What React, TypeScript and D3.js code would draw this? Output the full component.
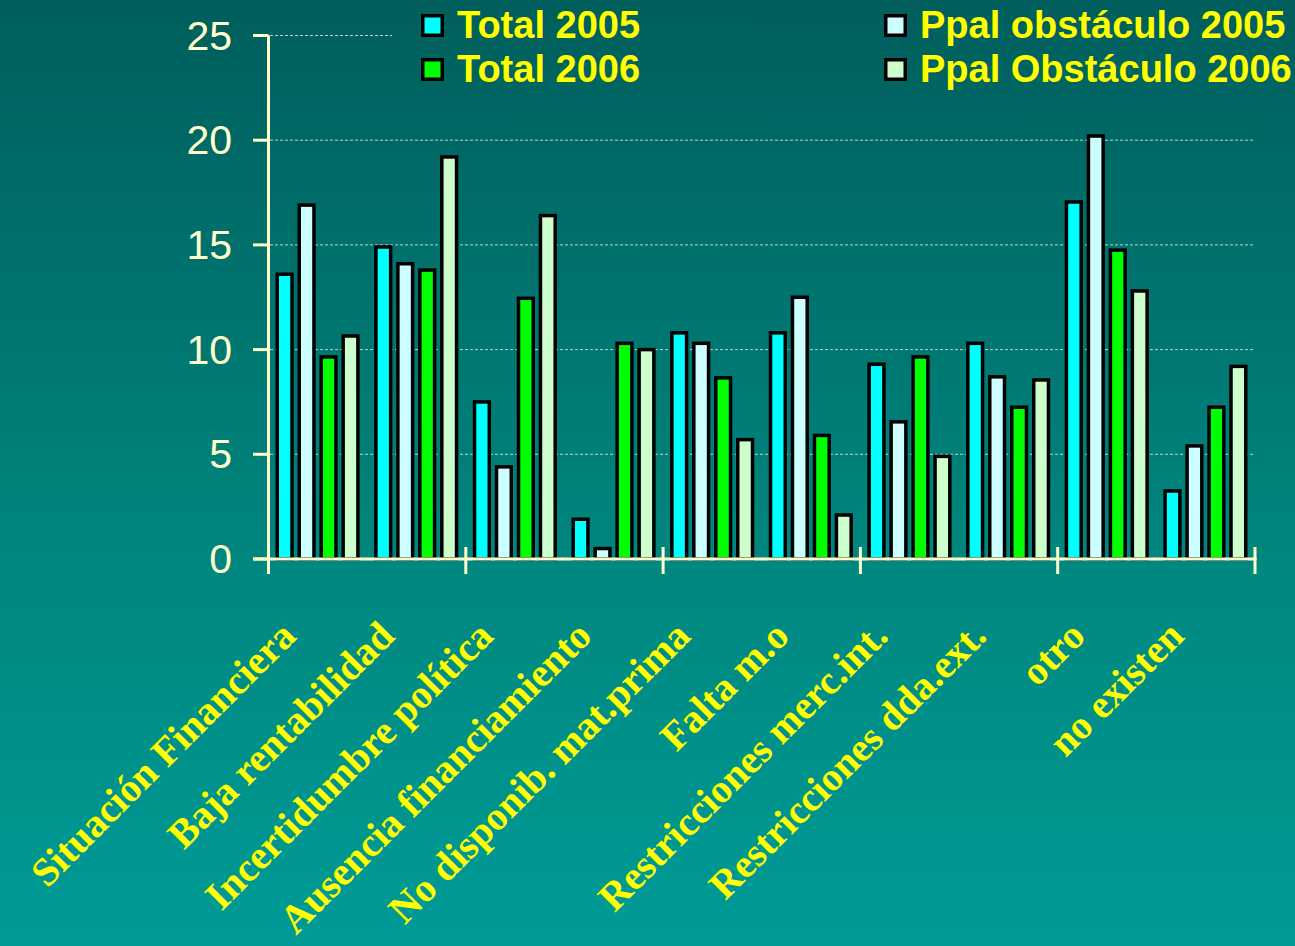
import React from 'react';
import * as d3 from 'd3';

const categories = [
  'Situación Financiera',
  'Baja rentabilidad',
  'Incertidumbre política',
  'Ausencia financiamiento',
  'No disponib. mat.prima',
  'Falta m.o',
  'Restricciones merc.int.',
  'Restricciones dda.ext.',
  'otro',
  'no existen',
];

const seriesNames = ['Total 2005', 'Ppal obstáculo 2005', 'Total 2006', 'Ppal Obstáculo 2006'];
const total2005 = [13.6, 14.9, 7.5, 1.9, 10.8, 10.8, 9.3, 10.3, 17.05, 3.25];
const ppal2005 = [16.9, 14.1, 4.4, 0.5, 10.3, 12.5, 6.55, 8.7, 20.2, 5.4];
const total2006 = [9.65, 13.8, 12.45, 10.3, 8.65, 5.9, 9.65, 7.25, 14.75, 7.25];
const ppal2006 = [10.65, 19.2, 16.4, 10.0, 5.7, 2.1, 4.9, 8.55, 12.8, 9.2];
const yTicks = [0, 5, 10, 15, 20, 25];

const seriesColors = ['#00ffff', '#ccffff', '#00ff00', '#ccffcc'];
const W = 1295;
const H = 946;

export default function App() {
  const values = [total2005, ppal2005, total2006, ppal2006];

  const x0 = d3.scaleBand<string>().domain(categories).range([268.5, 1255]);
  const x1 = d3
    .scaleBand<string>()
    .domain(seriesNames)
    .range([7, x0.bandwidth() - 7.5])
    .paddingInner(0.17);
  const y = d3.scaleLinear().domain([0, 25]).range([559, 35.5]);

  const axisCol = '#ffffcc';
  const bottom = y(0);
  const sw = 3.5;
  // ticks on the category axis fall every second category
  const xTickPos = categories
    .map((c, i) => (i % 2 === 0 ? (x0(c) as number) : null))
    .filter((v) => v !== null)
    .concat([x0.range()[1]]) as number[];

  const legendItems = [
    { name: seriesNames[0], color: seriesColors[0], x: 421, y: 14 },
    { name: seriesNames[2], color: seriesColors[2], x: 421, y: 58 },
    { name: seriesNames[1], color: seriesColors[1], x: 884, y: 14 },
    { name: seriesNames[3], color: seriesColors[3], x: 884, y: 58 },
  ];

  return (
    <svg
      width={W}
      height={H}
      style={{ position: 'absolute', left: 0, top: 0, display: 'block' }}
    >
      <defs>
        <linearGradient id="bg" gradientUnits="userSpaceOnUse" x1="0" y1="0" x2="0" y2={H}>
          <stop offset="0" stopColor="#005e5c" />
          <stop offset="0.6" stopColor="#00877f" />
          <stop offset="1" stopColor="#009b97" />
        </linearGradient>
      </defs>
      <rect width={W} height={H} fill="url(#bg)" />

      {/* grid */}
      {yTicks
        .filter((t) => t > 0)
        .map((t) => (
          <line
            key={t}
            x1={270}
            x2={1253}
            y1={y(t)}
            y2={y(t)}
            stroke="#b8d4c8"
            strokeWidth={1}
            strokeDasharray="3,2"
          />
        ))}

      {/* legend background covers the top grid line */}
      <rect x={392} y={0} width={W - 392} height={95} fill="url(#bg)" />

      {/* bars */}
      {categories.map((c, i) => (
        <g key={c} transform={`translate(${x0(c)},0)`}>
          {seriesNames.map((s, j) => {
            const v = values[j][i];
            const bx = (x1(s) as number) + sw / 2;
            const bw = x1.bandwidth() - sw;
            return (
              <rect
                key={s}
                x={bx}
                y={y(v)}
                width={bw}
                height={bottom - y(v)}
                fill={seriesColors[j]}
                stroke="#000"
                strokeWidth={sw}
              />
            );
          })}
        </g>
      ))}

      {/* y axis */}
      <line x1={268.5} x2={268.5} y1={y(25)} y2={574} stroke={axisCol} strokeWidth={3} />
      {yTicks.map((t) => (
        <g key={t}>
          <line x1={253} x2={268.5} y1={y(t)} y2={y(t)} stroke={axisCol} strokeWidth={3} />
          <text
            x={232}
            y={y(t) + 14}
            textAnchor="end"
            fill={axisCol}
            fontFamily="'Liberation Sans', Arial, sans-serif"
            fontSize={41}
          >
            {t}
          </text>
        </g>
      ))}

      {/* x axis */}
      <line x1={253} x2={1256.5} y1={bottom} y2={bottom} stroke={axisCol} strokeWidth={3} />
      {xTickPos.map((px) => (
        <line key={px} x1={px} x2={px} y1={547} y2={574} stroke={axisCol} strokeWidth={3} />
      ))}
      {categories.map((c) => {
        const cx = (x0(c) as number) + x0.bandwidth() / 2 - 20;
        return (
          <text
            key={c}
            transform={`translate(${cx},638) rotate(-45)`}
            textAnchor="end"
            fill="#ffff00"
            fontFamily="'Liberation Serif', 'Times New Roman', serif"
            fontWeight="bold"
            fontSize={40}
          >
            {c}
          </text>
        );
      })}

      {/* legend */}
      {legendItems.map((d) => (
        <g key={d.name}>
          <rect
            x={d.x + 1.75}
            y={d.y + 1.75}
            width={19.5}
            height={19.5}
            fill={d.color}
            stroke="#000"
            strokeWidth={3.5}
          />
          <text
            x={d.x + 36}
            y={d.y + 24}
            fill="#ffff00"
            fontFamily="'Liberation Sans', Arial, sans-serif"
            fontWeight="bold"
            fontSize={38}
          >
            {d.name}
          </text>
        </g>
      ))}
    </svg>
  );
}
